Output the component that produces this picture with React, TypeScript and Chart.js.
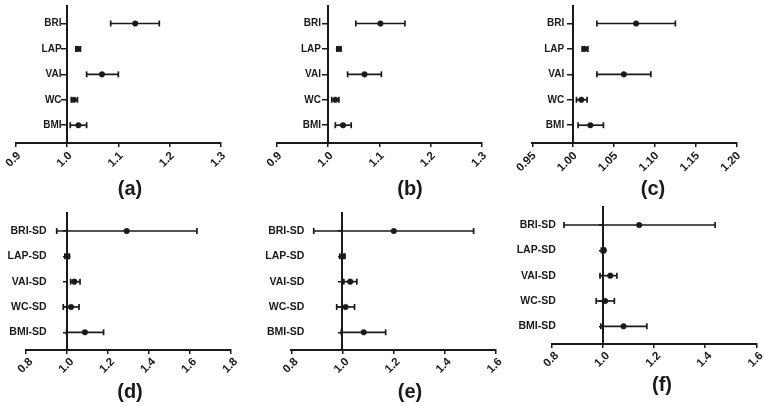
import React, { useEffect, useRef } from 'react';
import { Chart, registerables } from 'chart.js';

Chart.register(...registerables);

// ---------- data ----------
const topCategories = ['BRI', 'LAP', 'VAI', 'WC', 'BMI'];
const bottomCategories = ['BRI-SD', 'LAP-SD', 'VAI-SD', 'WC-SD', 'BMI-SD'];

const aEst = [1.133, 1.021, 1.068, 1.013, 1.022];
const aLow = [1.085, 1.017, 1.038, 1.008, 1.006];
const aHigh = [1.180, 1.026, 1.100, 1.020, 1.038];

const bEst = [1.102, 1.021, 1.071, 1.014, 1.029];
const bLow = [1.054, 1.017, 1.038, 1.007, 1.014];
const bHigh = [1.150, 1.025, 1.104, 1.021, 1.045];

const cEst = [1.077, 1.014, 1.062, 1.010, 1.021];
const cLow = [1.029, 1.011, 1.029, 1.004, 1.006];
const cHigh = [1.125, 1.018, 1.095, 1.017, 1.037];

const dEst = [1.292, 1.002, 1.036, 1.020, 1.088];
const dLow = [0.950, 0.990, 1.018, 0.982, 0.998];
const dHigh = [1.635, 1.012, 1.064, 1.059, 1.179];

const eEst = [1.202, 1.002, 1.031, 1.013, 1.084];
const eLow = [0.888, 0.990, 1.006, 0.978, 0.996];
const eHigh = [1.515, 1.010, 1.057, 1.048, 1.170];

const fEst = [1.142, 1.004, 1.029, 1.009, 1.081];
const fLow = [0.848, 0.994, 0.989, 0.974, 0.992];
const fHigh = [1.439, 1.009, 1.055, 1.045, 1.172];

const xTicksAB = [0.9, 1.0, 1.1, 1.2, 1.3];
const xTicksC = [0.95, 1.0, 1.05, 1.1, 1.15, 1.2];
const xTicksD = [0.8, 1.0, 1.2, 1.4, 1.6, 1.8];
const xTicksEF = [0.8, 1.0, 1.2, 1.4, 1.6];

const panelTitles = ['(a)', '(b)', '(c)', '(d)', '(e)', '(f)'];
const referenceValue = 1.0;

// ---------- styling ----------
const INK = '#1a1a1a';
const FAMILY = "'Liberation Sans', Arial, Helvetica, sans-serif";

type PanelCfg = {
  title: string;
  cats: string[];
  est: number[];
  low: number[];
  high: number[];
  xTicks: number[];
  dec: number;
  left: number; top: number; width: number; height: number;
  padL: number; padR: number; padT: number; xH: number;
  labelAt: number; yTick: number; labelSize: number;
  xLabelOffset: number; xLabelPad: number;
};

const panels: PanelCfg[] = [
  { title: panelTitles[0], cats: topCategories, est: aEst, low: aLow, high: aHigh, xTicks: xTicksAB, dec: 1,
    left: 0, top: 0, width: 260, height: 201, padL: 16, padR: 39.3, padT: 5, xH: 34, labelAt: 0.989, yTick: 5, labelSize: 10,
    xLabelOffset: 3, xLabelPad: 2 },
  { title: panelTitles[1], cats: topCategories, est: bEst, low: bLow, high: bHigh, xTicks: xTicksAB, dec: 1,
    left: 265, top: 0, width: 290, height: 201, padL: 12, padR: 73.3, padT: 5, xH: 34, labelAt: 0.986, yTick: 5, labelSize: 10,
    xLabelOffset: 3, xLabelPad: 2 },
  { title: panelTitles[2], cats: topCategories, est: cEst, low: cLow, high: cHigh, xTicks: xTicksC, dec: 2,
    left: 515, top: 0, width: 276, height: 201, padL: 17.3, padR: 54.3, padT: 5, xH: 34, labelAt: 0.989, yTick: 5, labelSize: 10,
    xLabelOffset: 2, xLabelPad: 2 },
  { title: panelTitles[3], cats: bottomCategories, est: dEst, low: dLow, high: dHigh, xTicks: xTicksD, dec: 1,
    left: 0, top: 200, width: 260, height: 204, padL: 26, padR: 29.3, padT: 13.3, xH: 30, labelAt: 0.901, yTick: 3, labelSize: 10.5,
    xLabelOffset: 5, xLabelPad: 1 },
  { title: panelTitles[4], cats: bottomCategories, est: eEst, low: eLow, high: eHigh, xTicks: xTicksEF, dec: 1,
    left: 262, top: 200, width: 296, height: 204, padL: 29.3, padR: 62.7, padT: 13.3, xH: 30, labelAt: 0.851, yTick: 3, labelSize: 10.5,
    xLabelOffset: 5, xLabelPad: 1 },
  { title: panelTitles[5], cats: bottomCategories, est: fEst, low: fLow, high: fHigh, xTicks: xTicksEF, dec: 1,
    left: 516, top: 200, width: 292, height: 197, padL: 35.7, padR: 51.7, padT: 7.3, xH: 29, labelAt: 0.816, yTick: 3, labelSize: 10.5,
    xLabelOffset: 5, xLabelPad: 1 },
];

function Panel({ cfg }: { cfg: PanelCfg }) {
  const ref = useRef<HTMLCanvasElement | null>(null);
  useEffect(() => {
    if (!ref.current) return;
    const n = cfg.cats.length;
    const pos = (i: number) => n - i;
    const yTickValues = cfg.cats.map((_, i) => pos(i));

    const datasets: any[] = [
      {
        data: cfg.est.map((v, i) => ({ x: v, y: pos(i) })),
        showLine: false,
        pointStyle: 'circle',
        pointRadius: 2.8,
        pointBackgroundColor: INK,
        pointBorderColor: INK,
        pointBorderWidth: 0.5,
        xAxisID: 'x',
        yAxisID: 'y',
        clip: false,
      },
    ];
    cfg.cats.forEach((_, i) => {
      datasets.push({
        data: [
          { x: cfg.low[i], y: pos(i) },
          { x: cfg.high[i], y: pos(i) },
        ],
        showLine: true,
        borderColor: INK,
        borderWidth: 1.7,
        pointStyle: 'line',
        pointRotation: 90,
        pointRadius: 3,
        pointBorderWidth: 1.7,
        pointBorderColor: INK,
        xAxisID: 'x',
        yAxisID: 'y',
        clip: false,
      });
    });

    const zeroPad = (s: any) => {
      s.paddingTop = 0; s.paddingBottom = 0; s.paddingLeft = 0; s.paddingRight = 0;
    };

    const chart = new Chart(ref.current, {
      type: 'scatter',
      data: { datasets },
      options: {
        animation: false,
        responsive: false,
        events: [],
        layout: { padding: { top: cfg.padT, left: 0, right: 0, bottom: 0 } },
        plugins: {
          legend: { display: false },
          tooltip: { enabled: false },
          title: {
            display: true,
            text: cfg.title,
            position: 'bottom',
            color: INK,
            font: { family: FAMILY, size: 20, weight: 'bold', lineHeight: 1.2 },
            padding: { top: 0, bottom: 0 },
          },
        },
        scales: {
          x: {
            type: 'linear',
            position: 'bottom',
            min: cfg.xTicks[0],
            max: cfg.xTicks[cfg.xTicks.length - 1],
            afterBuildTicks: (s: any) => { s.ticks = cfg.xTicks.map((value) => ({ value })); },
            afterFit: (s: any) => {
              s.height = cfg.xH;
              s.paddingTop = 0; s.paddingBottom = 0;
              s.paddingLeft = cfg.padL; s.paddingRight = cfg.padR;
            },
            ticks: {
              autoSkip: false,
              minRotation: 45,
              maxRotation: 45,
              padding: cfg.xLabelPad,
              labelOffset: cfg.xLabelOffset,
              color: INK,
              font: { family: FAMILY, size: 11.5, weight: 'bold' },
              callback: (v: any) => Number(v).toFixed(cfg.dec),
            },
            grid: {
              display: true,
              drawOnChartArea: false,
              drawTicks: true,
              tickLength: 4,
              tickColor: INK,
              tickWidth: 1.5,
              color: INK,
              lineWidth: 1.5,
            },
            border: { display: true, color: INK, width: 2 },
          },
          y: {
            type: 'linear',
            axis: 'y',
            position: { x: cfg.labelAt },
            min: 0.3,
            max: 5.7,
            afterBuildTicks: (s: any) => { s.ticks = yTickValues.map((value) => ({ value })); },
            afterFit: zeroPad,
            ticks: {
              autoSkip: false,
              padding: 0,
              color: INK,
              font: { family: FAMILY, size: cfg.labelSize, weight: 'bold' },
              callback: (v: any) => cfg.cats[n - Number(v)],
            },
            grid: { display: false, drawTicks: false, drawOnChartArea: false },
            border: { display: false },
          },
          yl: {
            type: 'linear',
            axis: 'y',
            position: { x: referenceValue },
            min: 0.3,
            max: 5.7,
            afterBuildTicks: (s: any) => { s.ticks = yTickValues.map((value) => ({ value })); },
            afterFit: zeroPad,
            ticks: { display: false },
            grid: {
              display: true,
              drawOnChartArea: false,
              drawTicks: true,
              tickLength: cfg.yTick,
              tickColor: INK,
              tickWidth: 1.5,
              color: INK,
              lineWidth: 1.5,
            },
            border: { display: true, color: INK, width: 2 },
          },
        } as any,
      },
    } as any);
    return () => chart.destroy();
  }, [cfg]);

  return (
    <canvas
      ref={ref}
      width={cfg.width}
      height={cfg.height}
      style={{ position: 'absolute', left: cfg.left, top: cfg.top, width: cfg.width, height: cfg.height }}
    />
  );
}

export default function App() {
  return (
    <div
      style={{
        position: 'absolute',
        left: 0,
        top: 0,
        width: 764,
        height: 406,
        overflow: 'hidden',
        background: '#ffffff',
      }}
    >
      {panels.map((p) => (
        <Panel key={p.title} cfg={p} />
      ))}
    </div>
  );
}
